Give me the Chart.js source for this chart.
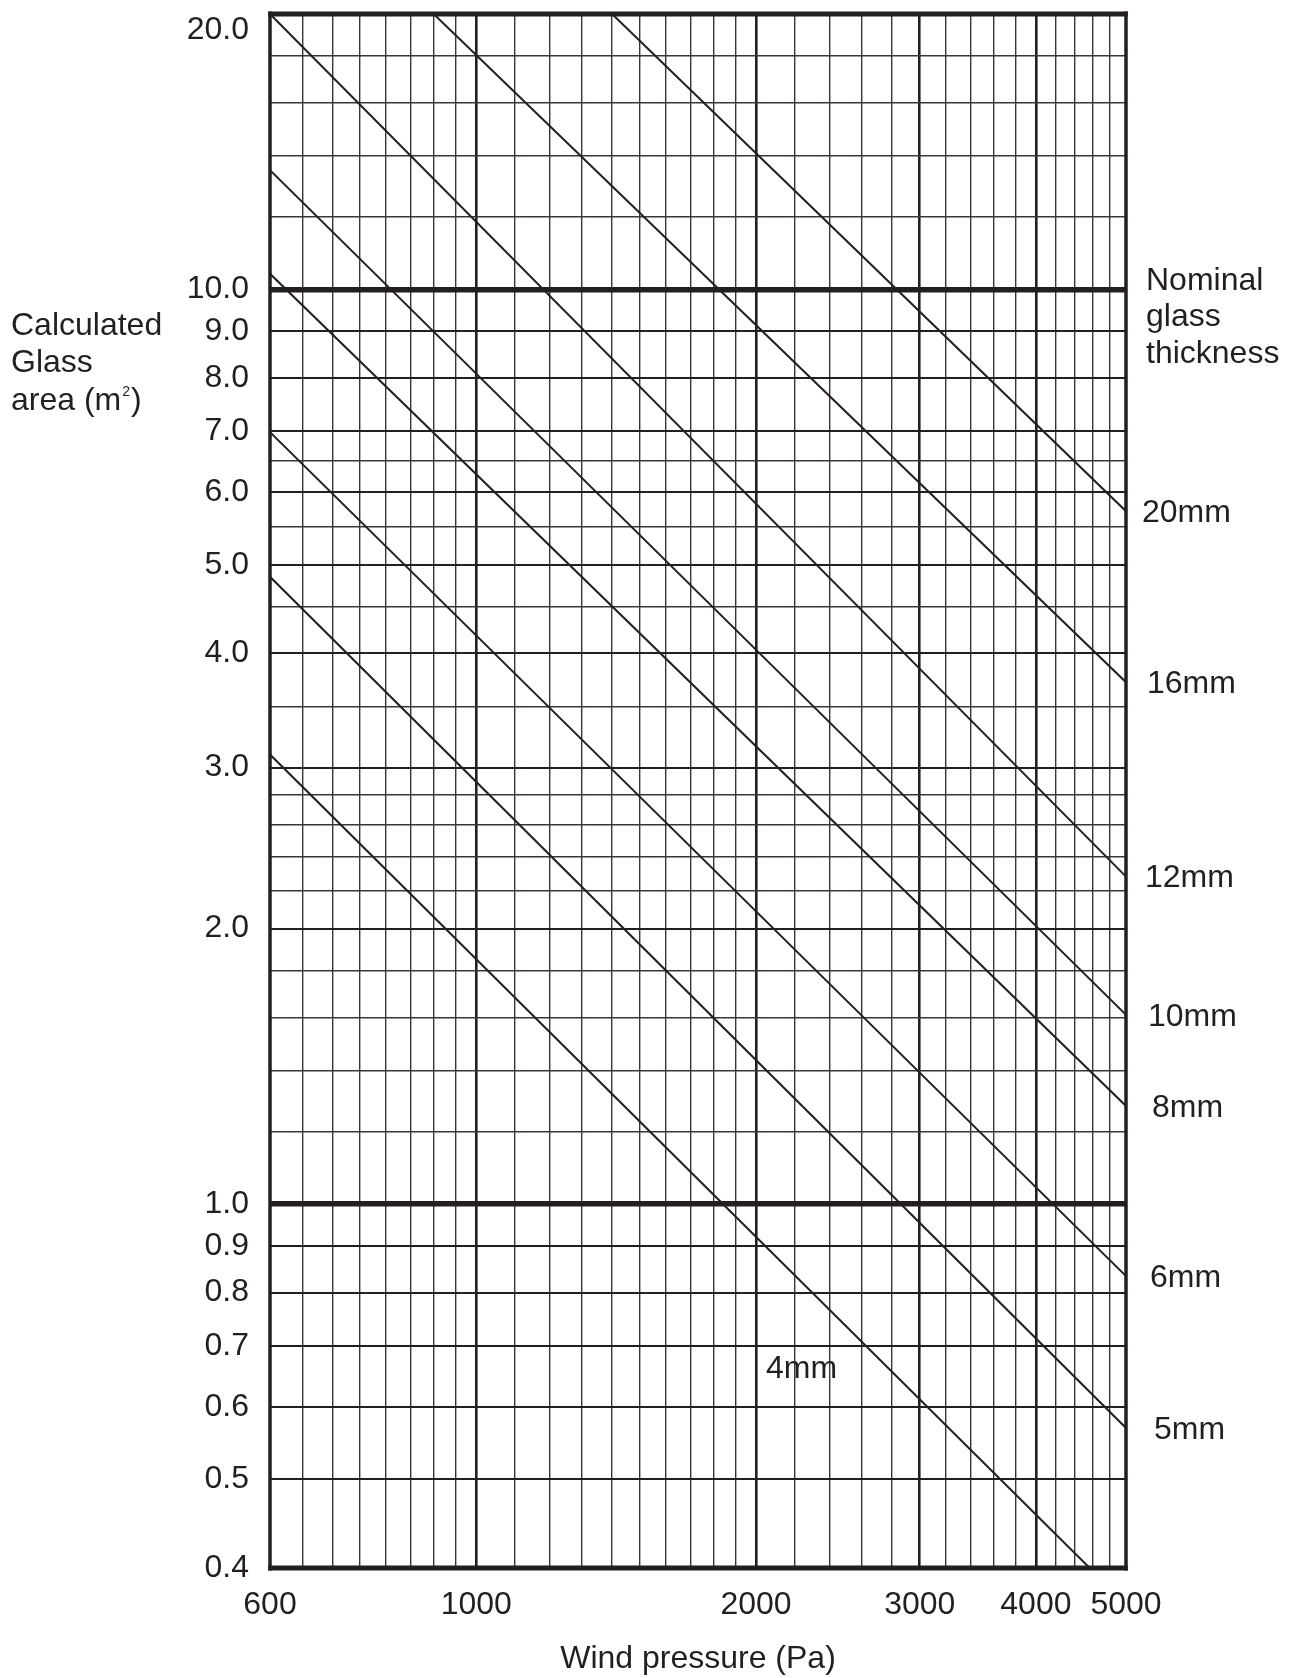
<!DOCTYPE html>
<html>
<head>
<meta charset="utf-8">
<title>Glass area vs wind pressure</title>
<script src="https://cdn.jsdelivr.net/npm/chart.js@4.4.1/dist/chart.umd.min.js"></script>
<style>
  html, body { margin: 0; padding: 0; background: #fff; }
  #wrap { position: relative; width: 1292px; height: 1678px; }
</style>
</head>
<body>
<div id="wrap"><canvas id="glass"></canvas></div>
<script>
// one straight line per nominal thickness at its two ends
var thickness = ["20mm", "16mm", "12mm", "10mm", "8mm", "6mm", "5mm", "4mm"];
var startPressure = [1400, 900, 600, 600, 600, 600, 600, 600];
var startArea = [20, 20, 20, 13.5, 10.4, 6.98, 4.85, 3.1];
var endPressure = [5000, 5000, 5000, 5000, 5000, 5000, 5000, 4570];
var endArea = [5.72, 3.72, 2.28, 1.61, 1.28, 0.834, 0.569, 0.4];

// grid lines and the ticks that carry a number
var pressureGrid = [600, 650, 700, 750, 800, 850, 900, 950, 1000,
  1100, 1200, 1300, 1400, 1500, 1600, 1700, 1800, 1900, 2000,
  2200, 2400, 2600, 2800, 3000, 3200, 3400, 3600, 3800, 4000,
  4200, 4400, 4600, 4800, 5000];
var pressureLabels = [600, 1000, 2000, 3000, 4000, 5000];
var areaGrid = [0.4, 0.5, 0.6, 0.7, 0.8, 0.9, 1, 1.2, 1.4, 1.6, 1.8, 2,
  2.2, 2.4, 2.6, 2.8, 3, 3.5, 4, 4.5, 5, 5.5, 6, 6.5, 7, 8, 9, 10,
  12, 14, 16, 18, 20];
var areaLabels = [20, 10, 9, 8, 7, 6, 5, 4, 3, 2, 1, 0.9, 0.8, 0.7, 0.6, 0.5, 0.4];

var ink = "#231f20";
var soft = "#3a3637";
var face = "'Liberation Sans', Arial, Helvetica, sans-serif";

Chart.defaults.font.family = face;
Chart.defaults.color = ink;

// label nudges to the right of the frame, and where "4mm" sits inside the grid
var labelDx = { "20mm": 16, "16mm": 21, "12mm": 19, "10mm": 22, "8mm": 26, "6mm": 24, "5mm": 28 };
var innerLabel = { pressure: 2050, area: 0.66 };

var frameAndText = {
  id: "frameAndText",
  beforeDatasetsDraw: function (chart) {
    var a = chart.chartArea;
    var ctx = chart.ctx;
    ctx.save();
    ctx.fillStyle = ink;
    ctx.fillRect(a.left - 1.75, a.top - 2.5, a.right - a.left + 3.5, 5);
    ctx.fillRect(a.left - 1.75, a.bottom - 2.5, a.right - a.left + 3.5, 5);
    ctx.fillRect(a.left - 1.75, a.top - 2.5, 3.5, a.bottom - a.top + 5);
    ctx.fillRect(a.right - 1.75, a.top - 2.5, 3.5, a.bottom - a.top + 5);
    ctx.restore();
  },
  afterDraw: function (chart) {
    var ctx = chart.ctx;
    var a = chart.chartArea;
    var xs = chart.scales.x;
    var ys = chart.scales.y;
    var big = "32px " + face;
    ctx.save();
    ctx.fillStyle = ink;
    ctx.font = big;
    ctx.textAlign = "left";
    ctx.textBaseline = "alphabetic";

    // y axis title, written across
    ctx.fillText("Calculated", 11, 335);
    ctx.fillText("Glass", 11, 372);
    var w1 = ctx.measureText("area (m").width;
    ctx.fillText("area (m", 11, 410);
    ctx.font = "14px " + face;
    ctx.fillText("2", 11 + w1 + 1, 396);
    var w2 = ctx.measureText("2").width;
    ctx.font = big;
    ctx.fillText(")", 11 + w1 + w2 + 2, 410);

    // legend title on the right
    ctx.fillText("Nominal", a.right + 20, 290);
    ctx.fillText("glass", a.right + 20, 326);
    ctx.fillText("thickness", a.right + 20, 363);

    // thickness labels at the line ends
    ctx.textBaseline = "middle";
    chart.data.datasets.forEach(function (ds) {
      var last = ds.data[ds.data.length - 1];
      if (last.x >= xs.max) {
        ctx.fillText(ds.label, a.right + labelDx[ds.label], ys.getPixelForValue(last.y) + 2);
      } else {
        ctx.fillText(ds.label, xs.getPixelForValue(innerLabel.pressure), ys.getPixelForValue(innerLabel.area));
      }
    });
    ctx.restore();
  }
};

var datasets = thickness.map(function (t, i) {
  return {
    label: t,
    data: [
      { x: startPressure[i], y: startArea[i] },
      { x: endPressure[i], y: endArea[i] }
    ],
    borderColor: ink,
    borderWidth: 2,
    pointRadius: 0,
    tension: 0,
    fill: false
  };
});

var obj = document.getElementById("glass");
var glassChart = new Chart(obj, {
  type: "line",
  data: { datasets: datasets },
  plugins: [frameAndText],
  options: {
    responsive: true,
    maintainAspectRatio: false,
    animation: false,
    events: [],
    layout: { padding: { top: 14, right: 166, bottom: 0, left: 0 } },
    plugins: { legend: { display: false }, tooltip: { enabled: false } },
    scales: {
      x: {
        type: "logarithmic",
        min: 600,
        max: 5000,
        afterBuildTicks: function (s) {
          s.ticks = pressureGrid.map(function (v) { return { value: v }; });
        },
        afterFit: function (s) {
          s.height = 110;
          s.paddingLeft = 0;
          s.paddingRight = 0;
        },
        ticks: {
          autoSkip: false,
          maxRotation: 0,
          padding: 18,
          color: ink,
          font: { size: 32 },
          callback: function (v) {
            return pressureLabels.indexOf(v) >= 0 ? String(v) : "";
          }
        },
        grid: {
          drawTicks: false,
          color: function (c) {
            return [1000, 2000, 3000, 4000].indexOf(c.tick.value) >= 0 ? ink : soft;
          },
          lineWidth: function (c) {
            var v = c.tick.value;
            if (v === 600 || v === 5000) return 0;
            return [1000, 2000, 3000, 4000].indexOf(v) >= 0 ? 2.6 : 1.4;
          }
        },
        border: { display: false },
        title: {
          display: true,
          text: "Wind pressure (Pa)",
          color: ink,
          font: { size: 32 },
          padding: { top: 0, bottom: 0 }
        }
      },
      y: {
        type: "logarithmic",
        min: 0.4,
        max: 20,
        afterBuildTicks: function (s) {
          s.ticks = areaGrid.map(function (v) { return { value: v }; });
        },
        afterFit: function (s) {
          s.width = 270;
          s.paddingTop = 0;
          s.paddingBottom = 0;
        },
        ticks: {
          autoSkip: false,
          padding: 21,
          color: ink,
          font: { size: 32, lineHeight: 1 },
          callback: function (v) {
            if (areaLabels.indexOf(v) < 0) return "";
            return v === 20 ? ["", v.toFixed(1)] : v.toFixed(1);
          }
        },
        grid: {
          drawTicks: false,
          color: function (c) {
            return areaLabels.indexOf(c.tick.value) >= 0 ? ink : soft;
          },
          lineWidth: function (c) {
            var v = c.tick.value;
            if (v === 20 || v === 0.4) return 0;
            if (v === 10 || v === 1) return 5.5;
            return areaLabels.indexOf(v) >= 0 ? 2 : 1.4;
          }
        },
        border: { display: false }
      }
    }
  }
});
</script>
</body>
</html>
